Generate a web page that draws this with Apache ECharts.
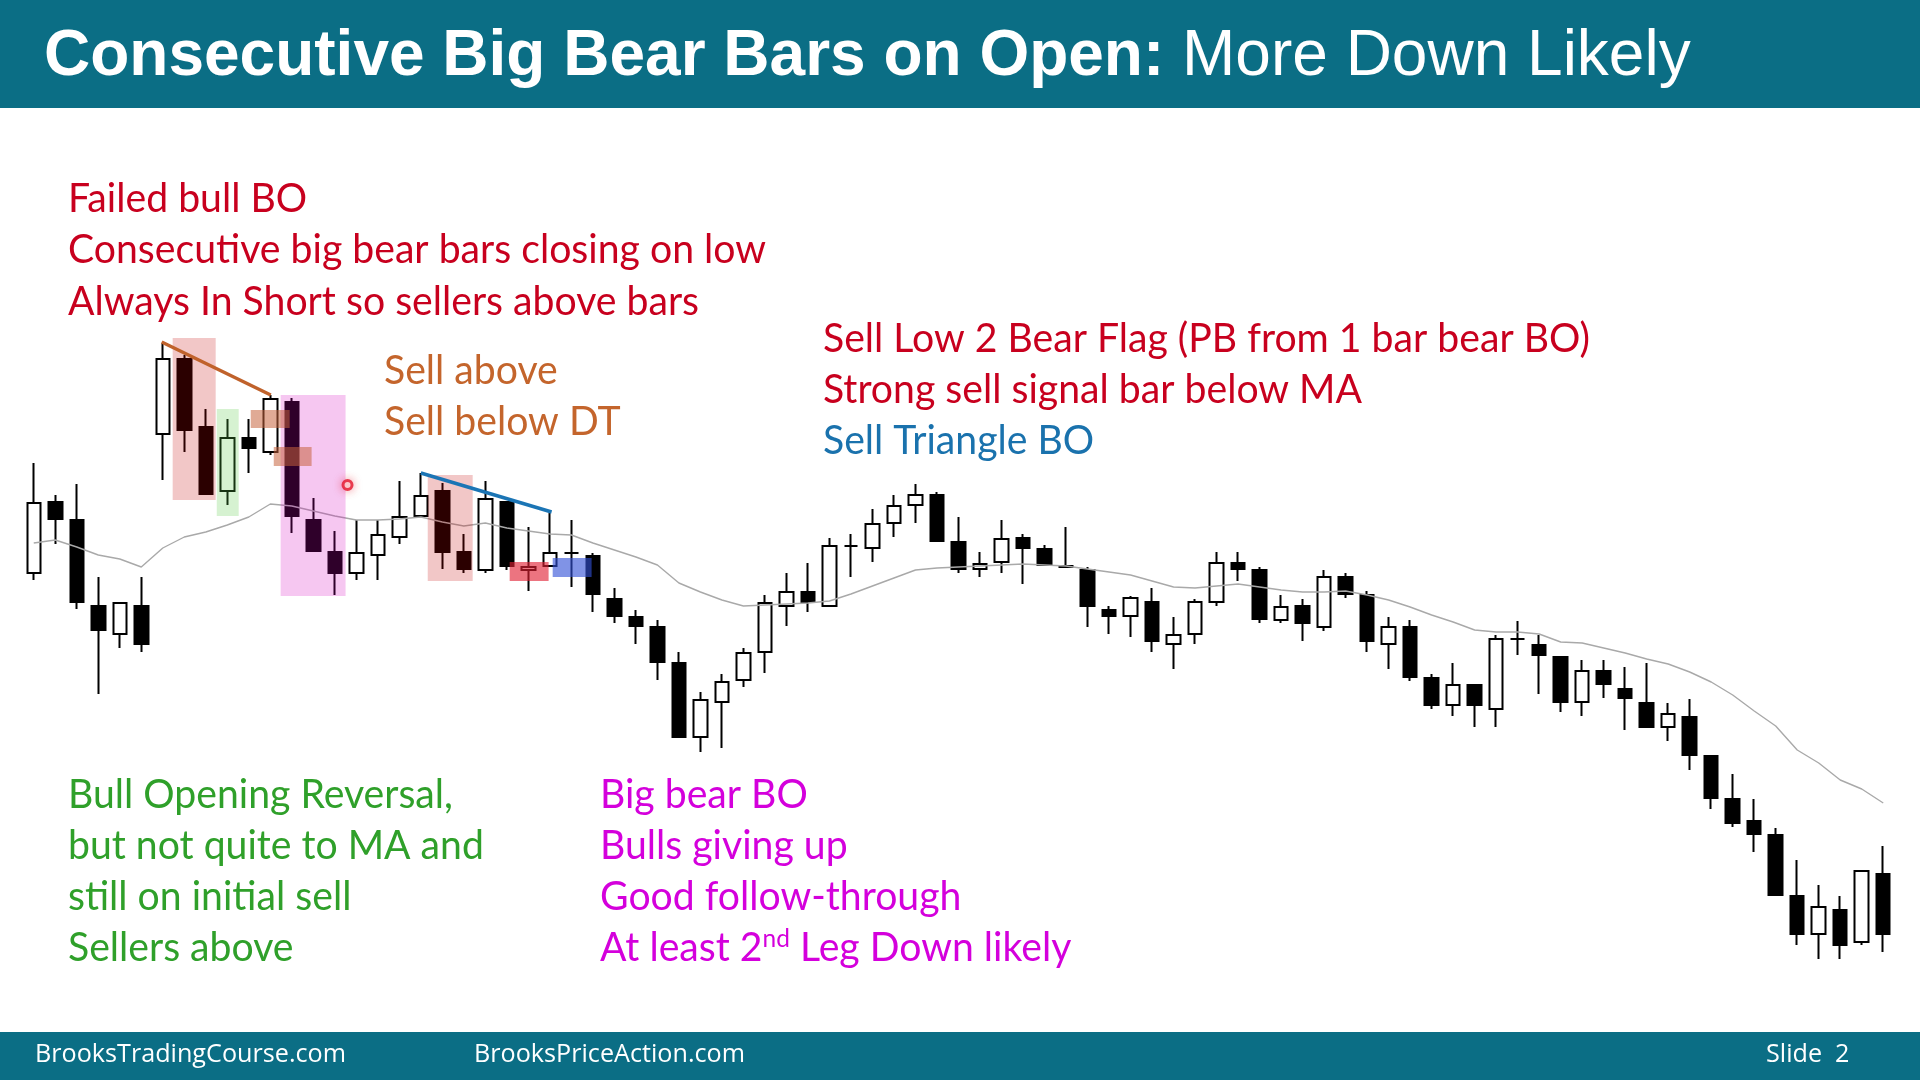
<!DOCTYPE html>
<html>
<head>
<meta charset="utf-8">
<title>Consecutive Big Bear Bars on Open</title>
<script src="https://cdn.jsdelivr.net/npm/echarts@6/dist/echarts.min.js"></script>
<style>
  html, body { margin: 0; padding: 0; background: #fff; }
  #chart { width: 1920px; height: 1080px; }
</style>
</head>
<body>
<div id="chart"></div>
<script>
// price bars (arbitrary price units)
const opens = [427, 498, 480, 394, 366, 394, 566, 641, 573, 509,
  562, 548, 598, 480, 448, 427, 445, 463, 484, 509,
  448, 430, 498, 430, 434, 447, 444, 401, 383, 373,
  337, 263, 298, 320, 348, 394, 408, 394, 454, 452,
  477, 495, 505, 458, 431, 438, 462, 451, 434, 430,
  390, 384, 398, 356, 366, 398, 437, 430, 380, 394,
  373, 423, 405, 356, 373, 322, 295, 315, 291, 361,
  355, 343, 298, 329, 311, 297, 273, 283, 244, 201,
  179, 165, 104, 66, 90, 58, 126];
const closes = [497, 481, 398, 370, 397, 356, 641, 570, 506, 562,
  552, 601, 484, 449, 427, 447, 465, 483, 504, 448,
  431, 501, 434, 433, 447, 447, 406, 384, 374, 338,
  263, 300, 318, 347, 397, 408, 398, 454, 454, 476,
  494, 505, 459, 431, 436, 461, 452, 435, 433, 394,
  384, 402, 359, 365, 398, 437, 431, 381, 393, 377,
  423, 406, 359, 373, 323, 295, 315, 295, 361, 361,
  345, 298, 329, 316, 302, 273, 286, 245, 202, 177,
  166, 105, 66, 93, 55, 129, 66];
const lows = [420, 456, 391, 306, 352, 348, 520, 548, 506, 495,
  527, 545, 467, 449, 405, 420, 420, 456, 484, 431,
  427, 427, 430, 409, 434, 413, 388, 377, 356, 320,
  263, 248, 252, 313, 327, 374, 388, 394, 423, 438,
  463, 477, 459, 427, 423, 427, 416, 435, 432, 373,
  366, 363, 348, 331, 356, 394, 419, 377, 377, 359,
  369, 402, 348, 331, 319, 291, 284, 273, 273, 345,
  306, 288, 284, 302, 270, 273, 259, 230, 191, 173,
  148, 105, 55, 41, 41, 55, 48];
const highs = [537, 505, 516, 423, 397, 423, 657, 645, 591, 581,
  581, 605, 602, 502, 469, 480, 480, 519, 527, 517,
  466, 519, 499, 473, 487, 480, 447, 412, 390, 380,
  348, 308, 326, 352, 405, 427, 437, 462, 466, 491,
  505, 516, 508, 483, 448, 480, 466, 455, 473, 433,
  394, 404, 412, 383, 401, 448, 448, 433, 405, 401,
  430, 427, 409, 383, 380, 326, 337, 315, 365, 379,
  365, 343, 340, 340, 333, 337, 297, 301, 244, 226,
  201, 172, 140, 115, 104, 129, 154];
// 20 bar EMA (grey line)
const movingAvg = [457, 460, 453, 445, 441, 433, 452, 463, 468, 475,
  483, 496, 494, 489, 484, 480, 480, 481, 483, 478,
  474, 477, 472, 469, 466, 465, 457, 450, 443, 435,
  417, 408, 400, 394, 395, 396, 397, 399, 406, 414,
  422, 430, 432, 433, 434, 435, 436, 435, 434, 431,
  428, 425, 419, 413, 412, 414, 416, 413, 410, 408,
  408, 409, 405, 400, 393, 385, 378, 370, 368, 368,
  366, 358, 357, 352, 347, 341, 336, 328, 318, 305,
  289, 274, 250, 237, 220, 211, 197];
const barNumbers = opens.map((_, i) => String(i + 1));

// highlight boxes drawn over the bars: [fromBar, toBar, lowPrice, highPrice]
const boxes = [
  { range: [6.46, 8.46, 500, 662], color: 'rgba(195,0,0,0.22)' },
  { range: [8.51, 9.53, 484, 591], color: 'rgba(90,205,70,0.25)' },
  { range: [11.48, 14.5, 404, 605], color: 'rgba(215,0,190,0.22)' },
  { range: [10.09, 11.9, 572, 590], color: 'rgba(198,98,59,0.54)' },
  { range: [11.16, 12.92, 534, 553], color: 'rgba(198,98,59,0.54)' },
  { range: [18.32, 20.41, 419, 525], color: 'rgba(195,0,0,0.22)' },
  { range: [22.13, 23.94, 419, 438], color: 'rgba(225,30,50,0.62)' },
  { range: [24.13, 25.94, 423, 442], color: 'rgba(50,80,215,0.62)' }
];
const doubleTopLine = [[5.95, 658], [11.02, 605]];
const triangleLine = [[18.0, 527], [24.08, 488]];
const cursorDot = [[14.59, 515]];

const RED = '#c8001e', BROWN = '#c4652c', BLUE = '#1a72ad', GREEN = '#2fa02a', MAGENTA = '#d400dc';
const TEAL = '#0b6e85';

const notes = [
  { x: 68, y: 199, color: RED, text: 'Failed bull BO' },
  { x: 68, y: 250, color: RED, text: 'Consecutive big bear bars closing on low' },
  { x: 68, y: 302, color: RED, text: 'Always In Short so sellers above bars' },
  { x: 384, y: 371, color: BROWN, text: 'Sell above' },
  { x: 384, y: 422, color: BROWN, text: 'Sell below DT' },
  { x: 823, y: 339, color: RED, text: 'Sell Low 2 Bear Flag (PB from 1 bar bear BO)' },
  { x: 823, y: 390, color: RED, text: 'Strong sell signal bar below MA' },
  { x: 823, y: 441, color: BLUE, text: 'Sell Triangle BO' },
  { x: 68, y: 795, color: GREEN, text: 'Bull Opening Reversal,' },
  { x: 68, y: 846, color: GREEN, text: 'but not quite to MA and' },
  { x: 68, y: 897, color: GREEN, text: 'still on initial sell' },
  { x: 68, y: 948, color: GREEN, text: 'Sellers above' },
  { x: 600, y: 795, color: MAGENTA, text: 'Big bear BO' },
  { x: 600, y: 846, color: MAGENTA, text: 'Bulls giving up' },
  { x: 600, y: 897, color: MAGENTA, text: 'Good follow-through' }
];

const ctx = document.createElement('canvas').getContext('2d');
function textWidth(text, font) {
  ctx.font = font;
  return ctx.measureText(text).width;
}

const NOTE_FONT = 'Lato';
const NOTE_SIZE = 40;
// the slide font is narrower than Lato, squeeze to the same line length
const noteScale = 698 / textWidth('Consecutive big bear bars closing on low', NOTE_SIZE + 'px ' + NOTE_FONT);

const graphics = [
  { type: 'rect', shape: { x: 0, y: 0, width: 1920, height: 108 }, style: { fill: TEAL } },
  { type: 'rect', shape: { x: 0, y: 1032, width: 1920, height: 48 }, style: { fill: TEAL } },
  {
    type: 'text', x: 44, y: 57,
    style: {
      text: '{b|Consecutive Big Bear Bars on Open:}{r|\u00a0More Down Likely}',
      verticalAlign: 'middle',
      rich: {
        b: { fontFamily: 'Liberation Sans', fontSize: 64, fontWeight: 'bold', fill: '#fff' },
        r: { fontFamily: 'Liberation Sans', fontSize: 64, fill: '#fff' }
      }
    }
  }
];

notes.forEach(n => {
  graphics.push({
    type: 'text', x: n.x, y: n.y, scaleX: noteScale,
    style: { text: n.text, fill: n.color, fontFamily: NOTE_FONT, fontSize: NOTE_SIZE, verticalAlign: 'middle' }
  });
});
graphics.push({
  type: 'text', x: 600, y: 948, scaleX: noteScale,
  style: {
    text: '{n|At least 2}{s|nd}{n|\u00a0Leg Down likely}',
    verticalAlign: 'middle',
    rich: {
      n: { fill: MAGENTA, fontFamily: NOTE_FONT, fontSize: NOTE_SIZE, lineHeight: 44 },
      s: { fill: MAGENTA, fontFamily: NOTE_FONT, fontSize: 25, lineHeight: 25, verticalAlign: 'top' }
    }
  }
});

// footer
const FOOT_FONT = 'Open Sans';
const footScale = 311 / textWidth('BrooksTradingCourse.com', '26px ' + FOOT_FONT);
[['BrooksTradingCourse.com', 35], ['BrooksPriceAction.com', 474], ['Slide  2', 1766]].forEach(([t, x]) => {
  graphics.push({
    type: 'text', x: x, y: 1055, scaleX: footScale,
    style: { text: t, fill: '#fff', fontFamily: FOOT_FONT, fontSize: 26, verticalAlign: 'middle' }
  });
});

const chart = echarts.init(document.getElementById('chart'));

chart.setOption({
  animation: false,
  backgroundColor: '#fff',
  grid: { left: 23, right: 26, top: 300, bottom: 80 },
  xAxis: [
    { type: 'category', data: barNumbers, show: false, boundaryGap: true },
    { type: 'value', min: -0.5, max: opens.length - 0.5, show: false }
  ],
  yAxis: { type: 'value', min: 0, max: 700, show: false },
  series: [
    {
      type: 'candlestick',
      xAxisIndex: 0,
      data: opens.map((o, i) => [o, closes[i], lows[i], highs[i]]),
      barWidth: 14,
      z: 2,
      itemStyle: {
        color: '#fff', color0: '#000',
        borderColor: '#000', borderColor0: '#000', borderColorDoji: '#000',
        borderWidth: 2
      }
    },
    {
      type: 'line',
      xAxisIndex: 0,
      data: movingAvg,
      symbol: 'none',
      z: 3,
      lineStyle: { color: '#a9a9a9', width: 1.4 }
    },
    {
      type: 'custom',
      xAxisIndex: 1,
      z: 5,
      data: boxes.map(b => b.range),
      encode: { x: [0, 1], y: [2, 3] },
      renderItem: (params, api) => {
        const p0 = api.coord([api.value(0), api.value(3)]);
        const p1 = api.coord([api.value(1), api.value(2)]);
        return {
          type: 'rect',
          shape: { x: p0[0], y: p0[1], width: p1[0] - p0[0], height: p1[1] - p0[1] },
          style: { fill: boxes[params.dataIndex].color }
        };
      }
    },
    {
      type: 'line', xAxisIndex: 1, data: doubleTopLine, symbol: 'none', z: 6,
      lineStyle: { color: '#c0622b', width: 3.5 }
    },
    {
      type: 'line', xAxisIndex: 1, data: triangleLine, symbol: 'none', z: 6,
      lineStyle: { color: '#1b75b5', width: 3.5 }
    },
    {
      type: 'scatter', xAxisIndex: 1, data: cursorDot, symbolSize: 9, z: 7,
      itemStyle: {
        color: '#ffe8e8', borderColor: '#e3142c', borderWidth: 3,
        shadowBlur: 10, shadowColor: 'rgba(230,0,30,0.45)'
      }
    }
  ],
  graphic: graphics
});
</script>
</body>
</html>
